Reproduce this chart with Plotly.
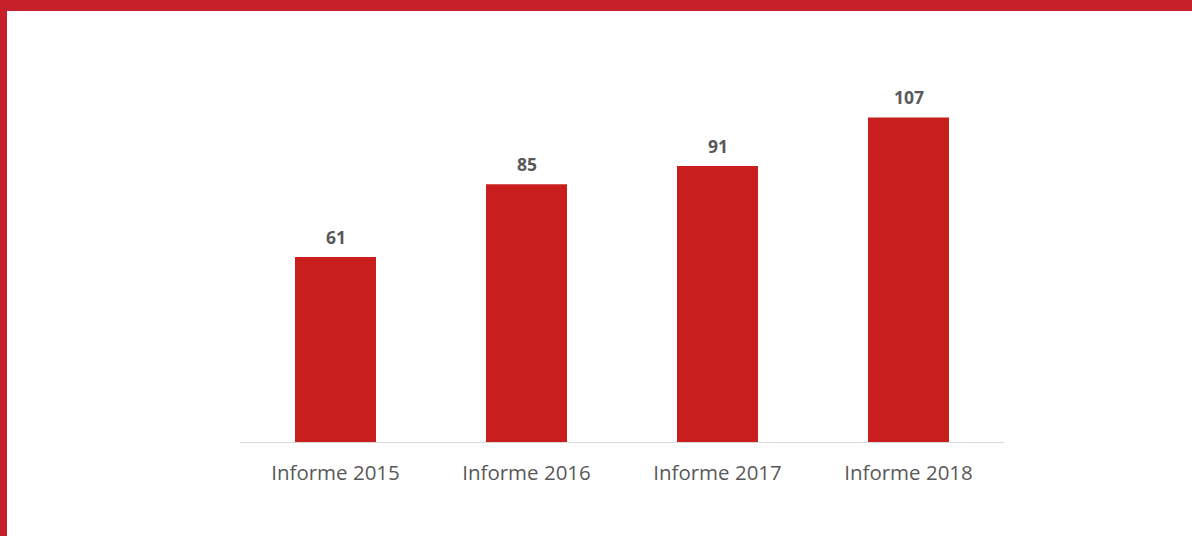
import plotly.graph_objects as go

categories = ["Informe 2015", "Informe 2016", "Informe 2017", "Informe 2018"]
values = [61, 85, 91, 107]

W, H = 1192, 536
ML, MR, MT, MB = 240, 188, 78, 94
PW, PH = W - ML - MR, H - MT - MB

bar_color = "#C81E1E"
frame_color = "#C8202A"
text_color = "#595959"

fig = go.Figure(
    go.Bar(
        x=categories,
        y=values,
        marker=dict(color=bar_color, line=dict(width=0)),
        hoverinfo="x+y",
    )
)

# value labels above each bar
for c, v in zip(categories, values):
    fig.add_annotation(
        x=c, y=v, text=f"<b>{v}</b>", showarrow=False,
        yanchor="middle", yshift=20,
        font=dict(family="Open Sans", size=17.5, color=text_color),
    )


def px_to_paper_x(px):
    return (px - ML) / PW


def px_to_paper_y(py):
    return (H - MB - py) / PH


# red frame along the top and left edges of the page
fig.add_shape(type="rect", xref="paper", yref="paper",
              x0=px_to_paper_x(0), x1=px_to_paper_x(W + 2),
              y0=px_to_paper_y(11), y1=px_to_paper_y(-2),
              fillcolor=frame_color, line=dict(width=0), layer="below")
fig.add_shape(type="rect", xref="paper", yref="paper",
              x0=px_to_paper_x(-2), x1=px_to_paper_x(7),
              y0=px_to_paper_y(H + 2), y1=px_to_paper_y(0),
              fillcolor=frame_color, line=dict(width=0), layer="below")

fig.update_layout(
    width=W, height=H,
    margin=dict(l=ML, r=MR, t=MT, b=MB, pad=0),
    paper_bgcolor="white", plot_bgcolor="white",
    bargap=0.576,
    showlegend=False,
    font=dict(family="Open Sans", color=text_color),
    xaxis=dict(
        showline=True, linecolor="#D9D9D9", linewidth=1,
        ticks="", showgrid=False,
        tickfont=dict(family="Open Sans", size=20.5, color=text_color),
        ticklabelstandoff=12,
    ),
    yaxis=dict(
        range=[0, 120], visible=False, showgrid=False, zeroline=False,
    ),
)

fig.write_html("out.html")
